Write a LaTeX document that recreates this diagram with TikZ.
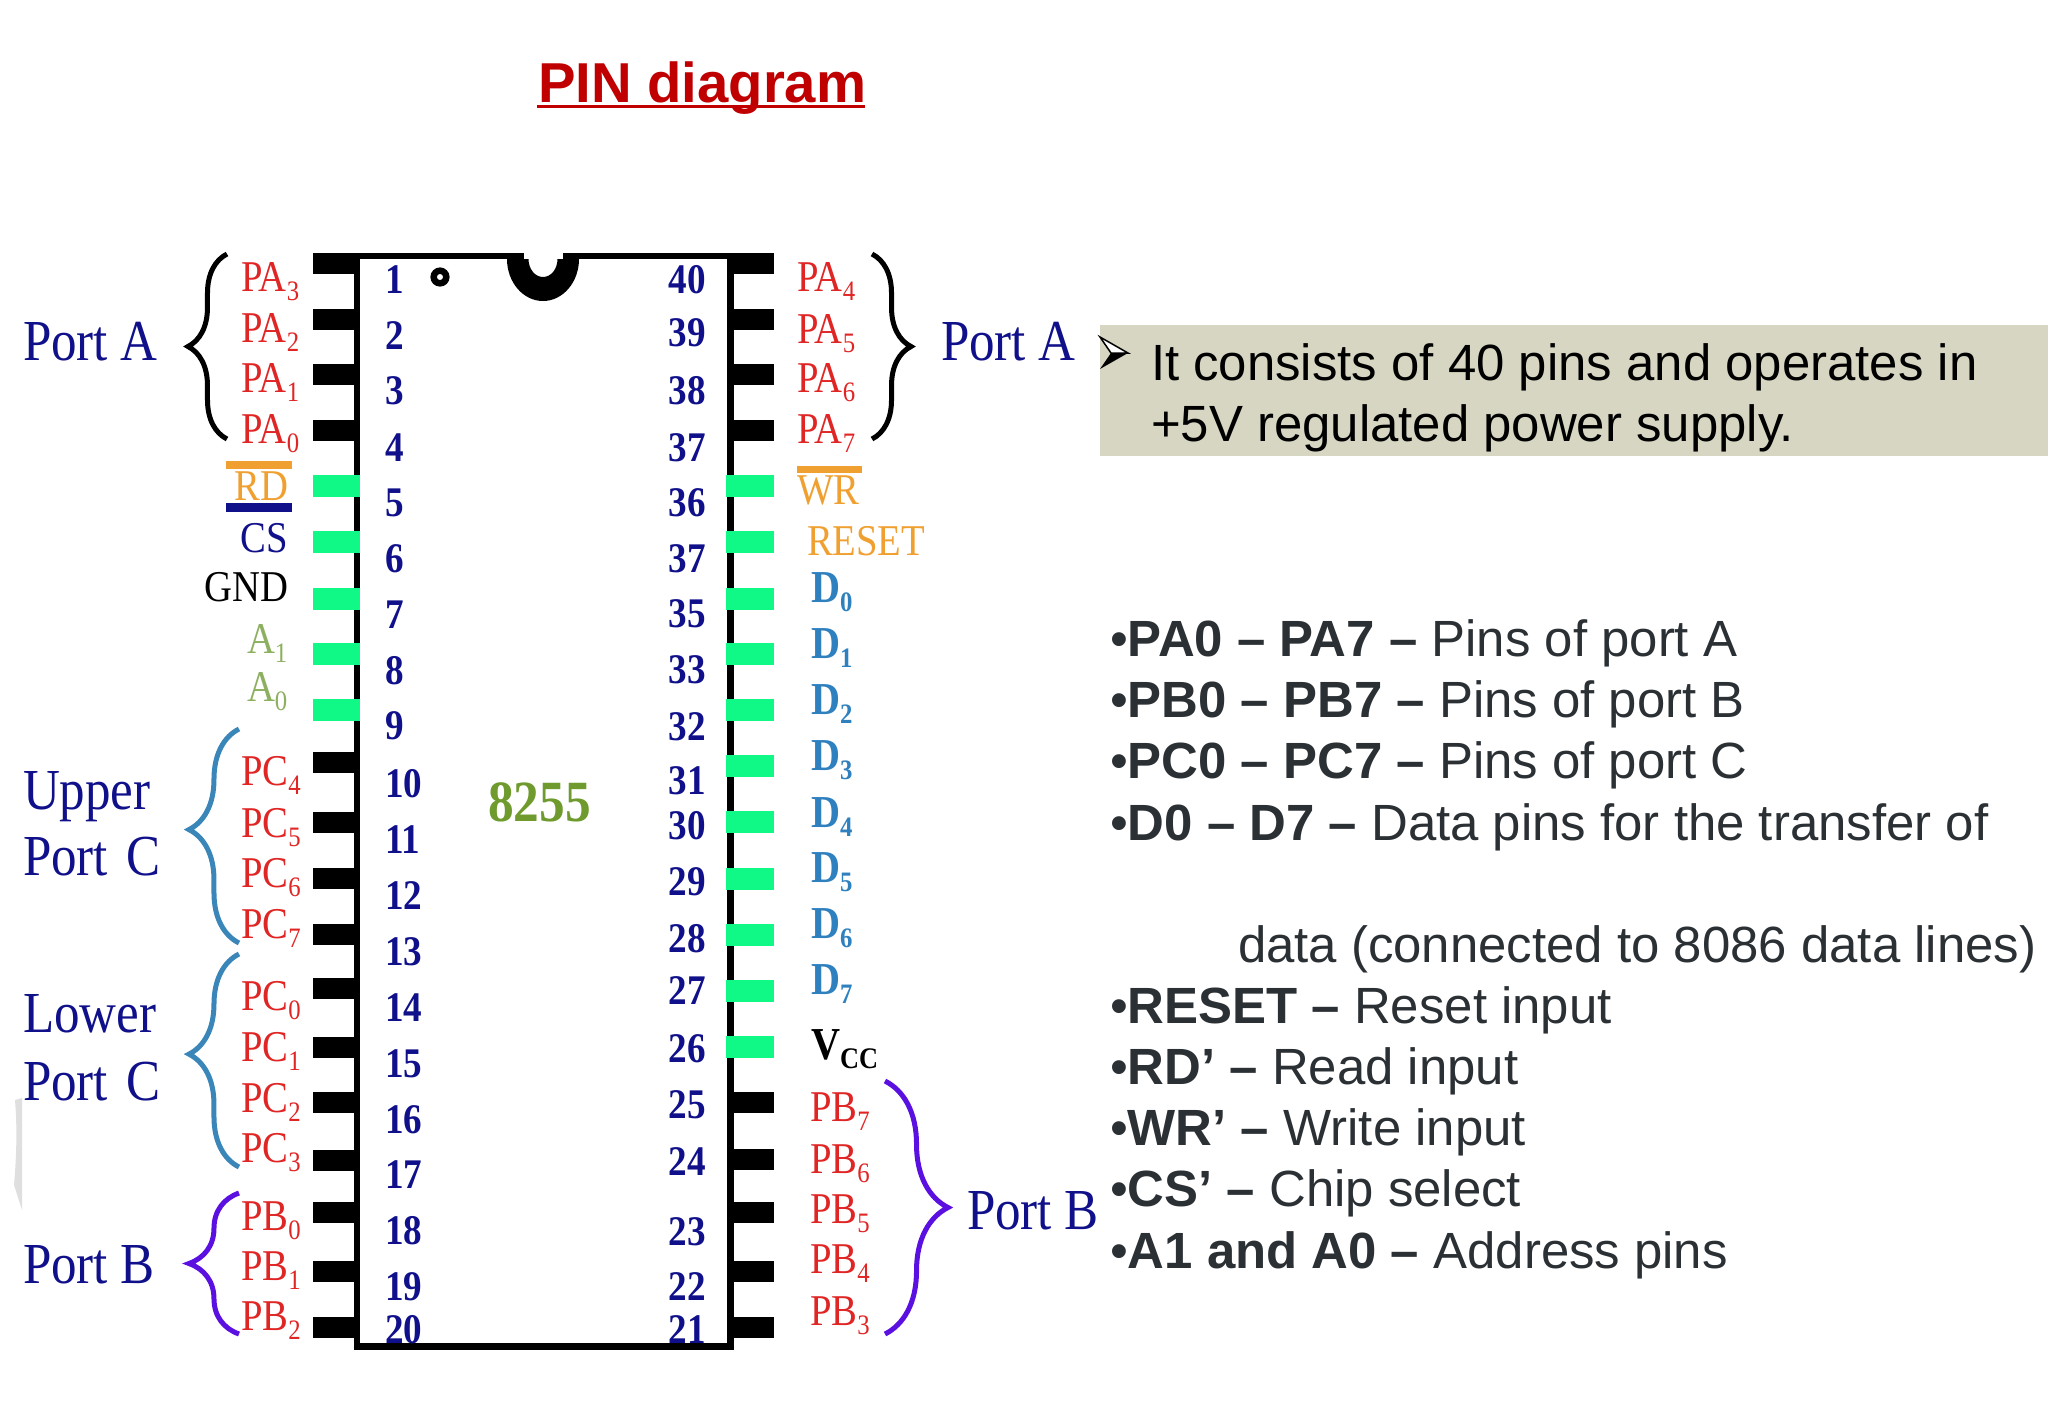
\documentclass[tikz,border=0pt]{standalone}
\usepackage{fontspec}
\setmainfont{Liberation Sans}
\newfontfamily\chipfont[FakeStretch=0.88]{Liberation Serif}
\usetikzlibrary{decorations.pathreplacing}
\definecolor{pinred}{HTML}{E02525}
\definecolor{navyblue}{HTML}{10108A}
\definecolor{springgreen}{HTML}{10F885}
\definecolor{sigorange}{HTML}{EFA030}
\definecolor{olivegreen}{HTML}{8DB060}
\definecolor{darkolive}{HTML}{6E9A2E}
\definecolor{databluec}{HTML}{2E80BE}
\definecolor{portcblue}{HTML}{3A86B8}
\definecolor{portbviolet}{HTML}{5A10E0}
\definecolor{bannergrey}{HTML}{D7D6C2}
\definecolor{slatetext}{HTML}{2B3034}
\definecolor{titlered}{HTML}{C00000}
\newcommand{\pinsub}[2][8]{\raisebox{-2.8pt}{\fontsize{#1}{9}\selectfont #2}}
\tikzset{every node/.style={inner sep=0pt,outer sep=0pt,anchor=base west}}
\tikzset{
  pinblack/.style={shape=rectangle,fill=black,minimum width=0.44cm,minimum height=0.21cm,anchor=center},
  pingreen/.style={shape=rectangle,fill=springgreen,minimum width=0.47cm,minimum height=0.22cm,anchor=center},
  pinnum/.style={font=\chipfont\bfseries\fontsize{12}{14}\selectfont,text=navyblue},
  pinlab/.style={font=\chipfont\fontsize{12.5}{14}\selectfont,text=pinred},
  datalab/.style={font=\chipfont\bfseries\fontsize{13}{14}\selectfont,text=databluec},
  portlab/.style={font=\chipfont\fontsize{16.5}{18}\selectfont,text=navyblue},
  infoline/.style={font=\fontsize{14.48}{17}\selectfont,text=slatetext},
  chipline/.style={line width=0.065cm,black},
  bracket/.style={decorate,line width=0.05cm,decoration={brace,amplitude=#1}},
}
\begin{document}
\begin{tikzpicture}[x=0.01cm,y=-0.01cm]
\useasboundingbox (0,0) rectangle (2048,1414);

% title
\node[font=\bfseries\fontsize{16}{19}\selectfont,text=titlered] (title) at (538,102) {PIN diagram};
\fill[titlered] (537,105) rectangle (865,107.5);

% left over mark
\fill[gray!25] (15,1100) -- (22,1098) -- (22,1210) -- (14,1185) .. controls (17,1150) and (17,1125) .. (15,1100);

% chip outline
\draw[chipline] (313,256) -- (524,256);
\draw[chipline] (563,256) -- (773,256);
\draw[chipline,line cap=rect] (357,256) -- (357,1346.5) -- (730.5,1346.5) -- (730.5,256);
\fill[black] (507,259) arc[x radius=36,y radius=42,start angle=180,end angle=0] -- (557.5,259)
  arc[x radius=14.5,y radius=18,start angle=0,end angle=180] -- cycle;
\draw[line width=0.065cm] (440,277) circle[radius=6.3];

% pins
\foreach \i/\y in {1/263,2/319,3/374,4/430,10/762,11/822,12/878.5,13/934.5,14/988,15/1047,16/1102.5,17/1160,18/1212,19/1271.5,20/1327.5}
  \node[pinblack] (pin\i) at (335,\y) {};
\foreach \i/\y in {5/485.5,6/541.5,7/598.5,8/654,9/710}
  \node[pingreen] (pin\i) at (336.5,\y) {};
\foreach \i/\y in {40/263,39/319,38/374,37/430,25/1102.5,24/1159,23/1212,22/1271.5,21/1327.5}
  \node[pinblack] (pin\i) at (751.5,\y) {};
\foreach \i/\y in {36/485.5,35/541.5,34/598.5,33/654,32/710,31/766,30/822,29/878.5,28/934.5,27/990.5,26/1047}
  \node[pingreen] (pin\i) at (750,\y) {};

% pin numbers
\foreach \i/\y in {1/293,2/349,3/404,4/461,5/516,6/572,7/628,8/684,9/739,10/797,11/853,12/909,13/965,14/1021,15/1077,16/1133,17/1188,18/1244,19/1300,20/1343}
  \node[pinnum] (ln\i) at (385,\y) {\i};
\foreach \i/\y in {40/293,39/346,38/404,37/461,36/516,37/572,35/627,33/683,32/740,31/794,30/839,29/895,28/952,27/1004,26/1062,25/1118,24/1175,23/1245,22/1300,21/1343}
  \node[pinnum,anchor=base east] (rn\y) at (706,\y) {\i};
\node[font=\chipfont\bfseries\fontsize{16.6}{19}\selectfont,text=darkolive] (chipname) at (488,821) {8255};

% pin names
\foreach \n/\s/\y in {PA/3/291,PA/2/342,PA/1/392,PA/0/443,PC/4/785,PC/5/837,PC/6/887,PC/7/938,PC/0/1010,PC/1/1061,PC/2/1112,PC/3/1162,PB/0/1230,PB/1/1280,PB/2/1330}
  \node[pinlab] (lab\n\s) at (241,\y) {\n\pinsub{\s}};
\foreach \s/\y in {4/291,5/343,6/392,7/443}
  \node[pinlab] (labPA\s) at (797,\y) {PA\pinsub{\s}};
\foreach \s/\y in {7/1121,6/1173,5/1223,4/1273,3/1325}
  \node[pinlab] (labPB\s) at (810,\y) {PB\pinsub{\s}};
\foreach \s/\y in {0/602,1/658,2/714,3/770,4/827,5/882,6/938,7/994}
  \node[datalab] (labD\s) at (811,\y) {D\pinsub{\s}};
\foreach \s/\y in {1/653,0/701}
  \node[pinlab,text=olivegreen] (labA\s) at (247,\y) {A\pinsub{\s}};
\node[pinlab,text=sigorange,anchor=base east] (labRD) at (288,500) {RD};
\node[pinlab,text=navyblue,anchor=base east] (labCS) at (288,552) {CS};
\node[pinlab,text=black,anchor=base east] (labGND) at (288,601) {GND};
\node[pinlab,text=sigorange] (labWR) at (797,504) {WR};
\node[pinlab,text=sigorange] (labRESET) at (807,555) {RESET};
\node[datalab,text=black] (labVCC) at (811,1059) {V\pinsub[8.5]{CC}};
\fill[sigorange] (226,461) rectangle (292,469);
\fill[navyblue] (226,503) rectangle (292,512);
\fill[sigorange] (797,466) rectangle (862,473);

% braces
\coordinate (al) at (227,254); \coordinate (bl) at (227,439);
\coordinate (cl) at (239,729); \coordinate (dl) at (239,943);
\coordinate (el) at (239,954); \coordinate (fl) at (239,1167);
\coordinate (gl) at (239,1193); \coordinate (hl) at (239,1334);
\coordinate (ar) at (872,254); \coordinate (br) at (872,439);
\coordinate (cr) at (885,1081); \coordinate (dr) at (885,1334);
\draw[bracket=0.39cm] (bl) -- (al);
\draw[bracket=0.50cm,portcblue,decoration={aspect=0.53}] (dl) -- (cl);
\draw[bracket=0.50cm,portcblue,decoration={aspect=0.53}] (fl) -- (el);
\draw[bracket=0.50cm,portbviolet] (hl) -- (gl);
\draw[bracket=0.39cm] (ar) -- (br);
\draw[bracket=0.63cm,portbviolet] (cr) -- (dr);

% port names
\node[portlab] (porta) at (23,360) {Port A};
\node[portlab] (upper) at (23,809) {Upper};
\node[portlab] (portcu) at (23,875.5) {Port\hspace{1.5pt} C};
\node[portlab] (lower) at (23,1032) {Lower};
\node[portlab] (portcl) at (23,1100) {Port\hspace{1.5pt} C};
\node[portlab] (portb) at (23,1283) {Port B};
\node[portlab] (portar) at (941,360) {Port A};
\node[portlab] (portbr) at (967,1229) {Port B};

% banner
\fill[bannergrey] (1100,325) rectangle (2048,456);
\draw[line width=0.015cm,fill=white] (1100,337) -- (1128,353) -- (1111,353) -- cycle;
\fill[black] (1100,369) -- (1128,353) -- (1111,353) -- cycle;
\node[infoline,text=black] (bannera) at (1151,380) {It consists of 40 pins and operates in};
\node[infoline,text=black] (bannerb) at (1151,441) {+5V regulated power supply.};

% pin list
\foreach \k/\y/\a/\b in {a/656/PA0 – PA7 –/Pins of port A,b/717/PB0 – PB7 –/Pins of port B,c/778/PC0 – PC7 –/Pins of port C,d/840/D0 – D7 –/Data pins for the transfer of,e/1023/RESET –/Reset input,f/1084/RD’ –/Read input,g/1145/WR’ –/Write input,h/1206/CS’ –/Chip select,i/1268/A1 and A0 –/Address pins}
  \node[infoline] (info\k) at (1110,\y) {•\textbf{\a} \b};
\node[infoline] (infoz) at (1238,962) {data (connected to 8086 data lines)};

\end{tikzpicture}
\end{document}
